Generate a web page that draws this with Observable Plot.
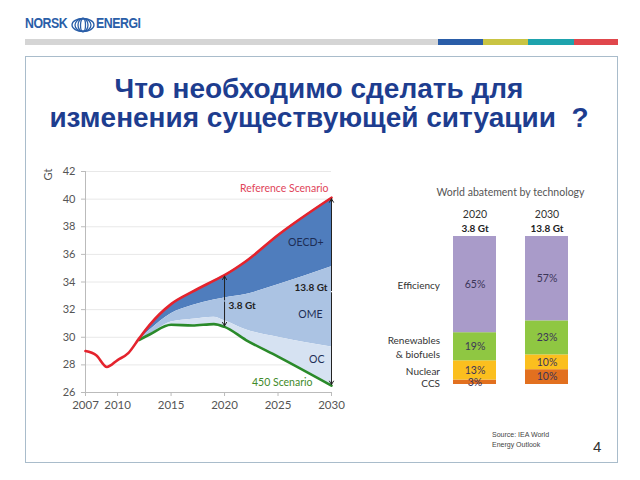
<!DOCTYPE html>
<html><head><meta charset="utf-8">
<script src="https://cdn.jsdelivr.net/npm/d3@7"></script>
<script src="https://cdn.jsdelivr.net/npm/@observablehq/plot@0.6"></script>
<style>
body{margin:0;background:#fff;}
#page{position:relative;width:640px;height:480px;overflow:hidden;font-family:"Liberation Sans",Arial,sans-serif;background:#fff;}
.abs{position:absolute;}
</style></head><body><div id="page">
<div class="abs" style="left:25px;top:14px;font-family:'Liberation Sans Narrow','Liberation Sans',sans-serif;font-weight:bold;font-size:14px;color:#2a5ea8;letter-spacing:-0.5px;line-height:18px;transform:scaleX(0.88);transform-origin:left;">NORSK</div>
<svg class="abs" style="left:70px;top:17px" width="26" height="16" viewBox="0 0 26 16">
 <g fill="none" stroke="#2a5ea8" stroke-width="1.3">
  <ellipse cx="13" cy="8" rx="11" ry="6.5"/><ellipse cx="13" cy="8" rx="8" ry="6.5"/><ellipse cx="13" cy="8" rx="5" ry="6.5"/><ellipse cx="13" cy="8" rx="2.5" ry="6.5"/>
 </g></svg>
<div class="abs" style="left:96px;top:14px;font-family:'Liberation Sans Narrow','Liberation Sans',sans-serif;font-weight:bold;font-size:14px;color:#2a5ea8;letter-spacing:-0.5px;line-height:18px;transform:scaleX(0.88);transform-origin:left;">ENERGI</div>
<div class="abs" style="left:25px;top:39px;width:413px;height:6px;background:#d5d5d5"></div>
<div class="abs" style="left:438px;top:39px;width:45px;height:6px;background:#2a5da8"></div>
<div class="abs" style="left:483px;top:39px;width:45px;height:6px;background:#c9c443"></div>
<div class="abs" style="left:528px;top:39px;width:46px;height:6px;background:#1ea3ad"></div>
<div class="abs" style="left:574px;top:39px;width:44px;height:6px;background:#e0474c"></div>
<div class="abs" style="left:25px;top:56px;width:591px;height:405px;border:1.5px solid #a9bccb;"></div>
<div class="abs" style="left:0;top:74px;width:638px;text-align:center;font-weight:bold;font-size:28px;line-height:29px;color:#1d3d8f;">Что необходимо сделать для<br>изменения существующей ситуации&nbsp; ?</div>
<div id="chart1" class="abs" style="left:40px;top:160px"></div>
<div class="abs" style="left:42px;top:168px;transform:rotate(-90deg);font-family:Lato,sans-serif;font-size:11px;color:#555;">Gt</div>
<div id="chart2" class="abs" style="left:380px;top:175px"></div>
<div class="abs" style="left:492px;top:430px;font-size:7px;line-height:10px;color:#444;">Source: IEA World<br>Energy Outlook</div>
<div class="abs" style="left:593px;top:438px;font-size:15px;color:#333;">4</div>
</div>
<script>
// Left chart data (Gt CO2)
const years = [2007, 2008, 2009, 2010, 2011, 2012, 2013, 2015, 2017, 2019, 2020, 2022, 2025, 2030];
const reference = [29.0, 28.7, 27.85, 28.35, 28.85, 29.9, 30.9, 32.4, 33.3, 34.1, 34.5, 35.5, 37.4, 40.1];
const areaYears = [2012, 2013, 2015, 2017, 2019, 2020, 2022, 2025, 2030];
const oecdFloor = [29.8, 30.5, 31.7, 32.3, 32.7, 32.85, 33.1, 33.8, 35.1];
const omeFloor = [29.8, 30.2, 31.1, 31.3, 31.45, 31.2, 30.55, 30.0, 29.3];
const scenario450 = [29.8, 30.2, 30.9, 30.85, 30.95, 30.75, 29.8, 28.6, 26.5];
const xTicks = [2007, 2010, 2015, 2020, 2025, 2030];
const yTicks = [26, 28, 30, 32, 34, 36, 38, 40, 42];
const gapYears = [2020, 2030];
const gapLabels = ["3.8 Gt", "13.8 Gt"];

// Right chart data (%)
const techs = ["CCS", "Nuclear", "Renewables", "Efficiency"];
const techLabels = ["CCS", "Nuclear", "Renewables\n& biofuels", "Efficiency"];
const share2020 = [3, 13, 19, 65];
const share2030 = [10, 10, 23, 57];
const barYears = ["2020", "2030"];
const barTotals = ["3.8 Gt", "13.8 Gt"];

const refAt = y => reference[years.indexOf(y)];
const rows = years.map((y, i) => ({year: y, ref: reference[i]}));
const arows = areaYears.map((y, i) => ({year: y, ref: refAt(y), oecd: oecdFloor[i], ome: omeFloor[i], s450: scenario450[i]}));
const last = arows[arows.length - 1];
const gaps = gapYears.map((y, i) => {
  const r = arows.find(d => d.year === y);
  return {year: y, top: r.ref, bottom: r.s450, mid: (r.ref + r.s450) / 2, label: gapLabels[i]};
});
const curve = "monotone-x";
const red = "#e4232d", green = "#2a8a2a";

const c1 = Plot.plot({
  width: 310, height: 260,
  marginLeft: 45, marginRight: 19, marginTop: 11, marginBottom: 28,
  style: {fontFamily: "Lato, sans-serif", fontSize: "11px", color: "#555", background: "transparent", overflow: "visible"},
  x: {domain: [2007, 2030]},
  y: {domain: [26, 42]},
  marks: [
    Plot.gridY(yTicks.slice(1), {stroke: "#e8e8e8", strokeOpacity: 1}),
    Plot.areaY(arows, {x: "year", y1: "oecd", y2: "ref", fill: "#4f7dbd", curve}),
    Plot.areaY(arows, {x: "year", y1: "ome", y2: "oecd", fill: "#abc3e3", curve}),
    Plot.areaY(arows, {x: "year", y1: "s450", y2: "ome", fill: "#d6e2f2", curve}),
    Plot.ruleX([2007], {stroke: "#bbb"}),
    Plot.ruleY([26], {stroke: "#bbb"}),
    Plot.axisY({ticks: yTicks, tickSize: 4, tickPadding: 6, label: null, stroke: "#bbb"}),
    Plot.axisX({ticks: xTicks, tickSize: 4, tickPadding: 4, tickFormat: "d", label: null, stroke: "#bbb", fontSize: 11.5}),
    Plot.line(arows, {x: "year", y: "s450", stroke: green, strokeWidth: 2.6, curve}),
    Plot.line(rows, {x: "year", y: "ref", stroke: red, strokeWidth: 2.6, curve}),
    Plot.arrow(gaps, {x1: "year", x2: "year", y1: "mid", y2: "top", stroke: "#222", strokeWidth: 1, headLength: 6, inset: 1}),
    Plot.arrow(gaps, {x1: "year", x2: "year", y1: "mid", y2: "bottom", stroke: "#222", strokeWidth: 1, headLength: 6, inset: 1}),
    Plot.text([gaps[0]], {x: "year", y: "mid", text: "label", textAnchor: "start", dx: 4, dy: 5, fontWeight: "bold", fill: "#222", fontSize: 10}),
    Plot.text([gaps[1]], {x: "year", y: "mid", text: "label", textAnchor: "end", dx: -4, dy: -4, fontWeight: "bold", fill: "#222", fontSize: 10}),
    Plot.text([last], {x: "year", y: "ref", text: ["Reference Scenario"], textAnchor: "end", dx: -3, dy: -9, fill: "#e0455a", fontSize: 10.5}),
    Plot.text([last], {x: "year", y: "s450", text: ["450 Scenario"], textAnchor: "end", dx: -19, dy: -3, fill: "#3f8a2a", fontSize: 10.5}),
    Plot.text([last], {x: "year", y: d => (d.ref + d.oecd) / 2, text: ["OECD+"], textAnchor: "end", dx: -8, dy: 10, fill: "#1d2d55", fontSize: 10.5}),
    Plot.text([last], {x: "year", y: d => (d.oecd + d.ome) / 2, text: ["OME"], textAnchor: "end", dx: -9, dy: 8, fill: "#1d2d55", fontSize: 10.5}),
    Plot.text([last], {x: "year", y: d => (d.ome + d.s450) / 2, text: ["OC"], textAnchor: "end", dx: -7, dy: -7, fill: "#1d2d55", fontSize: 10.5})
  ]
});
document.getElementById("chart1").appendChild(c1);

const bars = [];
barYears.forEach((yr, j) => {
  const vals = j === 0 ? share2020 : share2030;
  techs.forEach((t, i) => bars.push({year: yr, tech: t, label: techLabels[i], value: vals[i]}));
});
const colors = {CCS: "#e2701f", Nuclear: "#fbbf1e", Renewables: "#8fc742", Efficiency: "#a99bc9"};
const heads = barYears.map((y, i) => ({year: y, total: barTotals[i]}));

const c2 = Plot.plot({
  width: 220, height: 220,
  marginLeft: 73, marginRight: 31, marginTop: 61, marginBottom: 11,
  style: {fontFamily: "Lato, sans-serif", fontSize: "10.5px", color: "#333", background: "transparent", overflow: "visible"},
  x: {type: "band", domain: barYears, paddingInner: 0.4, paddingOuter: 0, axis: null},
  y: {domain: [0, 100], axis: null},
  marks: [
    Plot.barY(bars, Plot.stackY({x: "year", y: "value", z: "tech", order: techs, fill: d => colors[d.tech]})),
    Plot.text(bars, Plot.stackY({x: "year", y: "value", z: "tech", order: techs, text: d => d.value + "%", fill: "#3b3558", fontSize: 10.5})),
    Plot.text(bars.filter(d => d.year === "2020"), Plot.stackY({x: "year", y: "value", z: "tech", order: techs, text: "label", textAnchor: "end", dx: -35, fill: "#333", fontSize: 10, lineHeight: 1.35})),
    Plot.text(heads, {x: "year", frameAnchor: "top", text: "year", dy: -22, lineAnchor: "middle", fill: "#333", fontSize: 10.5}),
    Plot.text(heads, {x: "year", frameAnchor: "top", text: "total", dy: -8, lineAnchor: "middle", fill: "#222", fontSize: 10, fontWeight: "bold"}),
    Plot.text(["World abatement by technology"], {frameAnchor: "top", text: d => d, dy: -44, dx: -1, lineAnchor: "middle", fill: "#555", fontSize: 10.5})
  ]
});
document.getElementById("chart2").appendChild(c2);
</script>
</body></html>
